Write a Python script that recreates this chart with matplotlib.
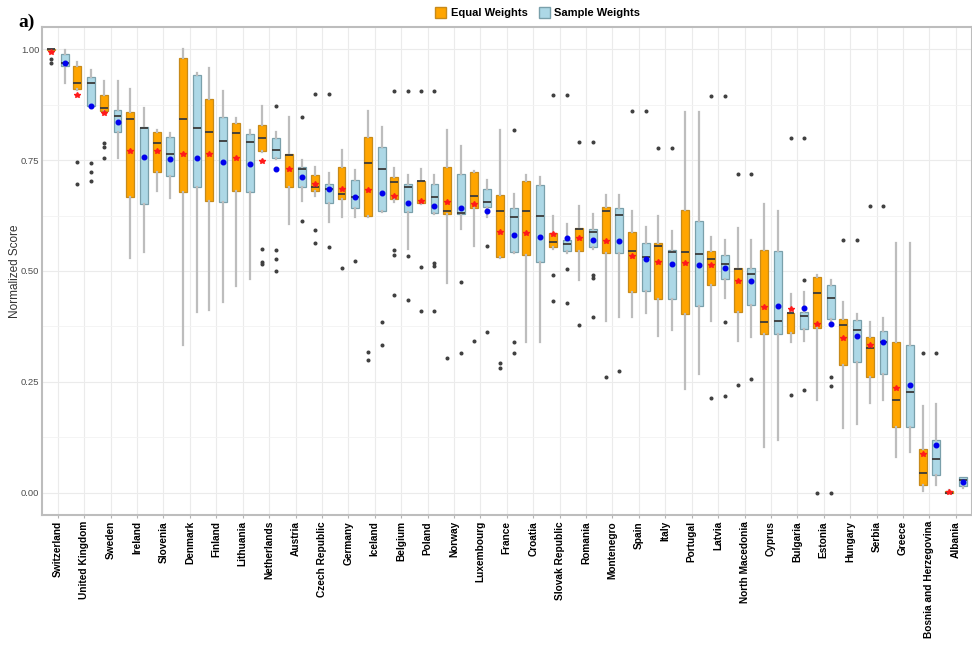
import matplotlib
matplotlib.use("Agg")
import matplotlib.pyplot as plt
from matplotlib.patches import Patch
import numpy as np

countries = ["Switzerland", "United Kingdom", "Sweden", "Ireland", "Slovenia", "Denmark",
             "Finland", "Lithuania", "Netherlands", "Austria", "Czech Republic", "Germany",
             "Iceland", "Belgium", "Poland", "Norway", "Luxembourg", "France", "Croatia",
             "Slovak Republic", "Romania", "Montenegro", "Spain", "Italy", "Portugal",
             "Latvia", "North Macedonia", "Cyprus", "Bulgaria", "Estonia", "Hungary",
             "Serbia", "Greece", "Bosnia and Herzegovina", "Albania"]

# Equal Weights
eq_q1 = [0.998, 0.910, 0.861, 0.667, 0.724, 0.678, 0.657, 0.680, 0.770, 0.690, 0.680, 0.662,
         0.625, 0.662, 0.653, 0.629, 0.641, 0.532, 0.536, 0.553, 0.544, 0.540, 0.452, 0.437,
         0.404, 0.468, 0.408, 0.358, 0.360, 0.371, 0.288, 0.262, 0.148, 0.018, 0.000]
eq_med = [1.000, 0.925, 0.868, 0.843, 0.789, 0.842, 0.814, 0.812, 0.800, 0.761, 0.690, 0.673,
          0.744, 0.700, 0.702, 0.635, 0.670, 0.635, 0.636, 0.566, 0.594, 0.635, 0.544, 0.556,
          0.542, 0.526, 0.504, 0.384, 0.405, 0.450, 0.378, 0.326, 0.209, 0.044, 0.000]
eq_q3 = [1.000, 0.962, 0.897, 0.858, 0.814, 0.980, 0.887, 0.834, 0.829, 0.764, 0.716, 0.735,
         0.803, 0.712, 0.703, 0.735, 0.724, 0.671, 0.702, 0.585, 0.596, 0.645, 0.587, 0.564,
         0.637, 0.546, 0.507, 0.547, 0.405, 0.487, 0.391, 0.352, 0.339, 0.098, 0.003]
eq_lo = [0.997, 0.908, 0.857, 0.530, 0.681, 0.333, 0.412, 0.466, 0.768, 0.607, 0.670, 0.622,
         0.622, 0.655, 0.650, 0.474, 0.557, 0.530, 0.339, 0.550, 0.480, 0.387, 0.397, 0.354,
         0.234, 0.387, 0.343, 0.104, 0.339, 0.209, 0.146, 0.202, 0.080, 0.003, 0.000]
eq_hi = [1.000, 0.971, 0.928, 0.911, 0.818, 1.000, 0.958, 0.845, 0.872, 0.848, 0.735, 0.774,
         0.861, 0.733, 0.729, 0.819, 0.726, 0.819, 0.716, 0.625, 0.647, 0.671, 0.636, 0.625,
         0.859, 0.576, 0.598, 0.652, 0.448, 0.491, 0.429, 0.386, 0.564, 0.196, 0.005]
eq_mean = [0.994, 0.896, 0.857, 0.771, 0.770, 0.764, 0.764, 0.755, 0.748, 0.729, 0.697, 0.684,
           0.682, 0.670, 0.658, 0.656, 0.652, 0.587, 0.585, 0.583, 0.575, 0.568, 0.533, 0.520,
           0.517, 0.514, 0.477, 0.418, 0.414, 0.380, 0.350, 0.333, 0.236, 0.087, 0.002]
eq_out = [[0.978, 0.969], [0.746, 0.696], [0.788, 0.780, 0.755], [], [], [], [], [],
          [0.550, 0.520, 0.515], [], [0.899, 0.592, 0.564], [0.506], [0.318, 0.300],
          [0.905, 0.547, 0.537, 0.445], [0.905, 0.508, 0.410], [0.304], [0.343],
          [0.292, 0.282], [], [0.896, 0.492, 0.432], [0.790, 0.378], [0.260], [0.861],
          [0.778], [], [0.895, 0.213], [0.718, 0.243], [], [0.800, 0.221], [0.000],
          [0.570], [0.646], [], [0.316], []]

# Sample Weights
sw_q1 = [0.962, 0.872, 0.814, 0.652, 0.715, 0.690, 0.656, 0.678, 0.754, 0.690, 0.654, 0.643,
         0.635, 0.633, 0.631, 0.629, 0.645, 0.542, 0.520, 0.544, 0.553, 0.540, 0.456, 0.437,
         0.420, 0.482, 0.423, 0.358, 0.369, 0.391, 0.294, 0.267, 0.149, 0.041, 0.014]
sw_med = [0.969, 0.925, 0.850, 0.823, 0.764, 0.822, 0.794, 0.791, 0.773, 0.731, 0.686, 0.667,
          0.731, 0.689, 0.668, 0.631, 0.656, 0.621, 0.624, 0.561, 0.588, 0.626, 0.532, 0.542,
          0.538, 0.516, 0.493, 0.388, 0.399, 0.438, 0.367, 0.339, 0.228, 0.077, 0.029]
sw_q3 = [0.990, 0.938, 0.863, 0.825, 0.803, 0.943, 0.848, 0.810, 0.799, 0.735, 0.696, 0.706,
         0.779, 0.696, 0.696, 0.718, 0.685, 0.643, 0.694, 0.571, 0.594, 0.643, 0.564, 0.547,
         0.612, 0.536, 0.507, 0.544, 0.407, 0.468, 0.390, 0.365, 0.333, 0.118, 0.035]
sw_lo = [0.923, 0.870, 0.754, 0.543, 0.664, 0.407, 0.431, 0.483, 0.752, 0.658, 0.611, 0.622,
         0.633, 0.549, 0.628, 0.594, 0.622, 0.540, 0.339, 0.540, 0.550, 0.397, 0.406, 0.367,
         0.268, 0.438, 0.352, 0.118, 0.342, 0.385, 0.155, 0.209, 0.091, 0.018, 0.010]
sw_hi = [0.999, 0.954, 0.928, 0.868, 0.812, 0.947, 0.905, 0.819, 0.814, 0.751, 0.721, 0.727,
         0.825, 0.716, 0.716, 0.783, 0.706, 0.673, 0.712, 0.607, 0.628, 0.671, 0.600, 0.590,
         0.859, 0.570, 0.571, 0.635, 0.453, 0.480, 0.403, 0.393, 0.564, 0.200, 0.036]
sw_mean = [0.968, 0.872, 0.836, 0.756, 0.753, 0.754, 0.746, 0.741, 0.729, 0.712, 0.686, 0.667,
           0.675, 0.654, 0.647, 0.641, 0.636, 0.581, 0.577, 0.575, 0.571, 0.568, 0.526, 0.515,
           0.514, 0.507, 0.478, 0.422, 0.417, 0.380, 0.354, 0.339, 0.243, 0.107, 0.025]
sw_out = [[], [0.744, 0.724, 0.703], [], [], [], [], [], [], [0.873, 0.547, 0.526, 0.500],
          [0.848, 0.613], [0.899, 0.553], [0.523], [0.384, 0.333], [0.905, 0.534, 0.434],
          [0.905, 0.517, 0.511, 0.410], [0.476, 0.316], [0.556, 0.362], [0.819, 0.339, 0.315],
          [], [0.896, 0.505, 0.427], [0.790, 0.491, 0.485, 0.397], [0.275], [0.861], [0.778],
          [], [0.895, 0.384, 0.217], [0.718, 0.256], [], [0.800, 0.480, 0.232],
          [0.262, 0.241, 0.000], [0.570], [0.646], [], [0.316], []]

y_ticks = [0.00, 0.25, 0.50, 0.75, 1.00]


def make_stats(q1, med, q3, lo, hi, mean, out):
    return [dict(q1=a, med=b, q3=c, whislo=d, whishi=e, mean=f, fliers=np.array(g))
            for a, b, c, d, e, f, g in zip(q1, med, q3, lo, hi, mean, out)]


fig = plt.figure(figsize=(9.72, 6.46), dpi=100)
ax = fig.add_axes([0.0432, 0.203, 0.9565, 0.755])

x = np.arange(len(countries))
off = 0.26
w = 0.30

common = dict(widths=w, patch_artist=True, showmeans=True, showcaps=False,
              whiskerprops=dict(color="#bdbdbd", linewidth=1.6),
              medianprops=dict(color="#3a3a3a", linewidth=1.3),
              flierprops=dict(marker="o", markersize=1.9, markerfacecolor="#404040",
                              markeredgecolor="#404040", linestyle="none"),
              manage_ticks=False, zorder=3)

b1 = ax.bxp(make_stats(eq_q1, eq_med, eq_q3, eq_lo, eq_hi, eq_mean, eq_out),
            positions=x - off,
            boxprops=dict(facecolor="#FFA500", edgecolor="#c78a1a", linewidth=0.9),
            meanprops=dict(marker="*", markersize=4.3, markerfacecolor="#ff1a1a",
                           markeredgecolor="#ff1a1a"),
            **common)
b2 = ax.bxp(make_stats(sw_q1, sw_med, sw_q3, sw_lo, sw_hi, sw_mean, sw_out),
            positions=x + off,
            boxprops=dict(facecolor="#ADD8E6", edgecolor="#7aa0ab", linewidth=0.9),
            meanprops=dict(marker="o", markersize=3.3, markerfacecolor="#0000ee",
                           markeredgecolor="#0000ee"),
            **common)

ax.set_xlim(-0.6, len(countries) - 0.4)
ax.set_ylim(-0.05, 1.05)
ax.set_xticks(x)
ax.set_xticklabels(countries, rotation=90, fontsize=7.3, fontweight="bold",
                   family="Liberation Sans", color="black")
ax.set_yticks(y_ticks)
ax.set_yticklabels([f"{v:.2f}" for v in y_ticks], fontsize=6.8,
                   family="Liberation Sans", color="#4d4d4d")
ax.set_yticks([0.125, 0.375, 0.625, 0.875], minor=True)
ax.tick_params(axis="both", which="minor", length=0)
ax.tick_params(axis="y", which="major", length=1.0, color="#b3b3b3", pad=1)
ax.tick_params(axis="x", which="major", length=2.5, color="#b3b3b3", pad=2)

ax.grid(True, which="major", color="#ebebeb", linewidth=0.8, zorder=0)
ax.grid(True, which="minor", axis="y", color="#f3f3f3", linewidth=0.6, zorder=0)
ax.set_axisbelow(True)
for s in ax.spines.values():
    s.set_color("#bdbdbd")
    s.set_linewidth(1.5)

ax.set_ylabel("Normalized Score", fontsize=8.5, family="Liberation Sans", color="#333333")
ax.yaxis.set_label_coords(-0.0225, 0.5)

handles = [Patch(facecolor="#FFA500", edgecolor="#c78a1a", label="Equal Weights"),
           Patch(facecolor="#ADD8E6", edgecolor="#7aa0ab", label="Sample Weights")]
fig.legend(handles=handles, loc="center", bbox_to_anchor=(0.553, 0.981), ncol=2,
           frameon=False, prop=dict(family="Liberation Sans", weight="bold", size=8),
           handlelength=1.0, handleheight=1.2, columnspacing=1.0, handletextpad=0.4)

fig.text(0.019, 0.966, "a)", fontsize=14, fontweight="bold", family="Liberation Serif",
         ha="left", va="center")

fig.savefig("out.png", dpi=100, facecolor="white")
